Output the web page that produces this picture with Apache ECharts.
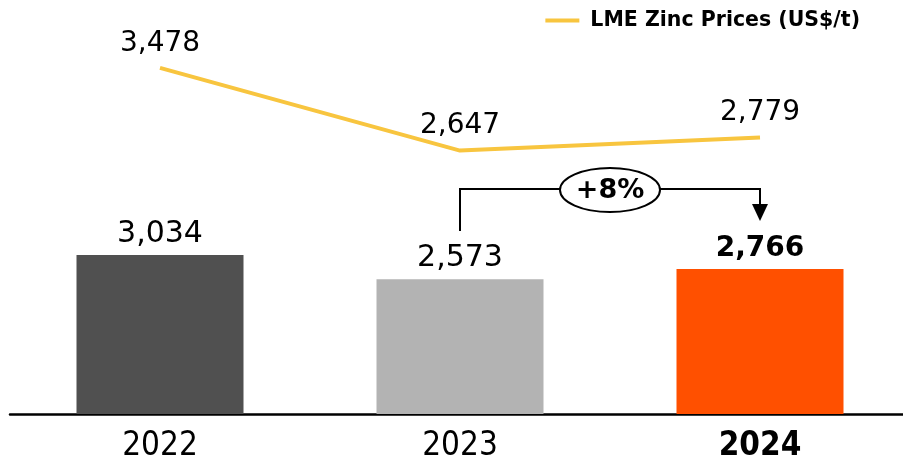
<!DOCTYPE html>
<html>
<head>
<meta charset="utf-8">
<script src="https://cdn.jsdelivr.net/npm/echarts@6/dist/echarts.min.js"></script>
<style>
  html, body { margin: 0; padding: 0; background: #fff; }
  #main { width: 903px; height: 463px; }
</style>
</head>
<body>
<div id="main"></div>
<script>
var years = ['2022', '2023', '2024'];
var volumes = [3034, 2573, 2766];          // bars
var zincPrices = [3478, 2647, 2779];       // LME zinc, US$/t
var barColors = ['#505050', '#b3b3b3', '#ff5000'];
var lineColor = '#f8c53f';
var growthLabel = '+8%';

var font = '"DejaVu Sans", "Noto Sans", sans-serif';
var narrow = '"Liberation Sans Narrow", "DejaVu Sans Condensed", sans-serif';
var chart = echarts.init(document.getElementById('main'));

var option = {
	animation: false,
	backgroundColor: '#fff',
	grid: { left: 10, right: -7, top: 0, bottom: 49, containLabel: false, outerBoundsMode: 'none' },
	legend: {
		data: [{ name: 'LME Zinc Prices (US$/t)', icon: 'rect', itemStyle: { color: lineColor, opacity: 1 } }],
		right: 38, top: 5,
		itemWidth: 34, itemHeight: 4,
		itemGap: 11,
		textStyle: { fontFamily: font, fontWeight: 'bold', fontSize: 20.5, color: '#000', padding: [0, 0, 0, 6] }
	},
	xAxis: {
		type: 'category',
		data: years,
		axisTick: { show: false },
		axisLine: { lineStyle: { color: '#000', width: 2.5 } },
		axisLabel: {
			margin: 16,
			fontFamily: narrow,
			fontSize: 33,
			color: '#000',
			formatter: function (v, i) { return i === 2 ? '{b|' + v + '}' : v; },
			rich: { b: { fontWeight: 'bold', fontSize: 33, fontFamily: narrow } }
		}
	},
	yAxis: [
		{ type: 'value', min: 0, max: 7900, show: false, splitLine: { show: false } },
		{ type: 'value', min: 0, max: 4160, show: false, splitLine: { show: false } }
	],
	series: [{
		type: 'bar',
		name: 'Volume',
		barWidth: 167,
		data: volumes.map(function (v, i) {
			return {
				value: v,
				itemStyle: { color: barColors[i] },
				label: i === 2 ? { fontWeight: 'bold', fontSize: 28 } : {}
			};
		}),
		label: {
			show: true, position: 'top', distance: 6,
			fontFamily: font, fontSize: 30, color: '#000',
			formatter: function (p) { return p.value.toLocaleString('en-US'); }
		}
	}, {
		type: 'line',
		name: 'LME Zinc Prices (US$/t)',
		yAxisIndex: 1,
		data: zincPrices,
		symbol: 'circle',
		symbolSize: 1,
		showSymbol: true,
		itemStyle: { color: 'rgba(0,0,0,0)' },
		lineStyle: { width: 4, color: lineColor },
		label: {
			show: true, position: 'top', distance: 10,
			fontFamily: font, fontSize: 28, color: '#000',
			formatter: function (p) { return p.value.toLocaleString('en-US'); }
		},
		labelLayout: { hideOverlap: false }
	}]
};
chart.setOption(option);

// growth bracket between 2023 and 2024
var x1 = chart.convertToPixel({ xAxisIndex: 0 }, years[1]);
var x2 = chart.convertToPixel({ xAxisIndex: 0 }, years[2]);
var xm = (x1 + x2) / 2;
var yTop = 189;
chart.setOption({
	graphic: [
		{ type: 'polyline', shape: { points: [[x1, 231], [x1, yTop], [x2, yTop], [x2, 206]] },
		  style: { stroke: '#000', lineWidth: 2, fill: null } },
		{ type: 'polygon', shape: { points: [[x2 - 8, 204], [x2 + 8, 204], [x2, 221]] },
		  style: { fill: '#000' } },
		{ type: 'ellipse', shape: { cx: xm, cy: 190, rx: 50, ry: 22 },
		  style: { fill: '#fff', stroke: '#000', lineWidth: 2 } },
		{ type: 'text', x: xm, y: 191, z: 10,
		  style: { text: growthLabel, fill: '#000', font: 'bold 27px ' + font, align: 'center', verticalAlign: 'middle' } }
	]
});
</script>
</body>
</html>
